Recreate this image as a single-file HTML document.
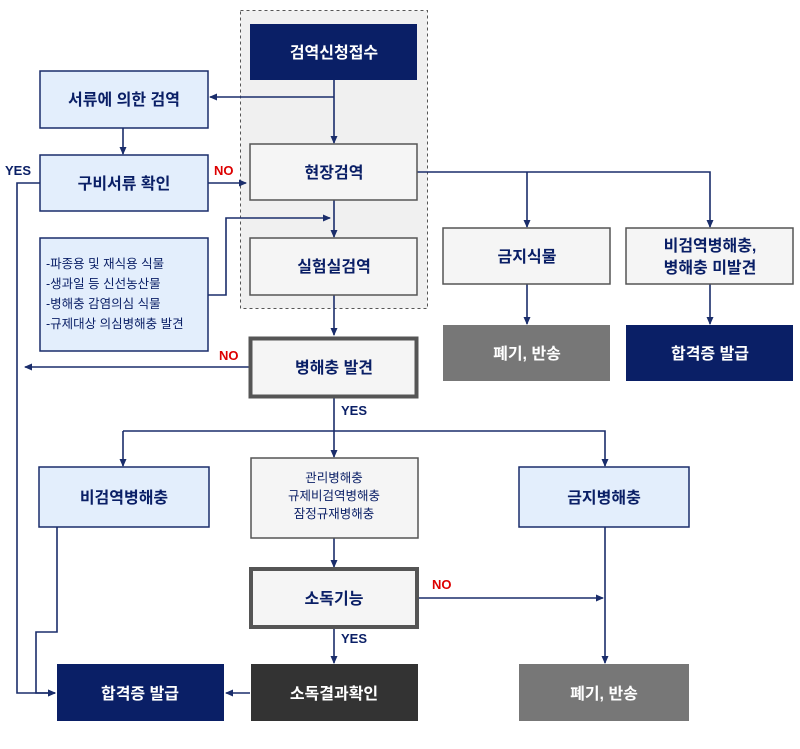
<!DOCTYPE html>
<html><head><meta charset="utf-8"><style>
html,body{margin:0;padding:0;background:#fff}
svg text{font-family:"Liberation Sans","Noto Sans CJK KR",sans-serif;font-weight:bold}
svg text.n{font-weight:normal}
</style></head><body>
<svg width="800" height="744" viewBox="0 0 800 744" xmlns="http://www.w3.org/2000/svg">
<defs><marker id="a" markerWidth="8" markerHeight="8" refX="7" refY="4" orient="auto" markerUnits="userSpaceOnUse"><path d="M0,0.5 L8,4 L0,7.5 z" fill="#1a2d6b"/></marker></defs>
<rect x="240.5" y="10.5" width="187" height="298" fill="#f0f0f0" stroke="#555" stroke-dasharray="3,3"/>
<g fill="none" stroke="#1a2d6b" stroke-width="1.6">
<path d="M334 80 V143" marker-end="url(#a)"/>
<path d="M334 97 H210" marker-end="url(#a)"/>
<path d="M123 128 V154" marker-end="url(#a)"/>
<path d="M208 183 H246" marker-end="url(#a)"/>
<path d="M40 183 H17 V693 H55" marker-end="url(#a)"/>
<path d="M417 172 H710 V227" marker-end="url(#a)"/>
<path d="M527 172 V227" marker-end="url(#a)"/>
<path d="M334 200 V237" marker-end="url(#a)"/>
<path d="M208 295 H226 V218 H330" marker-end="url(#a)"/>
<path d="M334 295 V335" marker-end="url(#a)"/>
<path d="M249 367 H25" marker-end="url(#a)"/>
<path d="M334 397 V457" marker-end="url(#a)"/>
<path d="M123 431 H605 V466" marker-end="url(#a)"/>
<path d="M123 431 V466" marker-end="url(#a)"/>
<path d="M527 284 V324" marker-end="url(#a)"/>
<path d="M710 284 V324" marker-end="url(#a)"/>
<path d="M57 527 V632 H36 V693 H55" marker-end="url(#a)"/>
<path d="M334 538 V567" marker-end="url(#a)"/>
<path d="M418 598 H603" marker-end="url(#a)"/>
<path d="M605 527 V663" marker-end="url(#a)"/>
<path d="M334 628 V663" marker-end="url(#a)"/>
<path d="M250 693 H226" marker-end="url(#a)"/>
</g>
<rect x="250" y="24" width="167" height="56" fill="#0a1f66"/>
<rect x="40" y="71" width="168" height="57" fill="#e3eefc" stroke="#1a2d6b" stroke-width="1.5"/>
<rect x="40" y="155" width="168" height="56" fill="#e3eefc" stroke="#1a2d6b" stroke-width="1.5"/>
<rect x="40" y="238" width="168" height="113" fill="#e3eefc" stroke="#1a2d6b" stroke-width="1.5"/>
<rect x="250" y="144" width="167" height="56" fill="#f5f5f5" stroke="#555" stroke-width="1.5"/>
<rect x="250" y="238" width="167" height="57" fill="#f5f5f5" stroke="#555" stroke-width="1.5"/>
<rect x="250.5" y="338.5" width="166" height="58" fill="#f5f5f5" stroke="#555" stroke-width="4"/>
<rect x="443" y="228" width="167" height="56" fill="#f5f5f5" stroke="#555" stroke-width="1.5"/>
<rect x="626" y="228" width="167" height="56" fill="#f5f5f5" stroke="#555" stroke-width="1.5"/>
<rect x="443" y="325" width="167" height="56" fill="#777"/>
<rect x="626" y="325" width="167" height="56" fill="#0a1f66"/>
<rect x="39" y="467" width="170" height="60" fill="#e3eefc" stroke="#1a2d6b" stroke-width="1.5"/>
<rect x="251" y="458" width="167" height="80" fill="#f5f5f5" stroke="#555" stroke-width="1.5"/>
<rect x="519" y="467" width="170" height="60" fill="#e3eefc" stroke="#1a2d6b" stroke-width="1.5"/>
<rect x="251" y="569" width="166" height="58" fill="#f5f5f5" stroke="#555" stroke-width="4"/>
<rect x="57" y="664" width="167" height="57" fill="#0a1f66"/>
<rect x="251" y="664" width="167" height="57" fill="#333"/>
<rect x="519" y="664" width="170" height="57" fill="#777"/>
<g font-size="16" text-anchor="middle" fill="#0a1f66">
<text x="334" y="58" fill="#fff">검역신청접수</text>
<text x="124" y="105">서류에 의한 검역</text>
<text x="124" y="189">구비서류 확인</text>
<text x="334" y="178">현장검역</text>
<text x="334" y="272">실험실검역</text>
<text x="334" y="373">병해충 발견</text>
<text x="527" y="262">금지식물</text>
<text x="710" y="251">비검역병해충,</text>
<text x="710" y="273">병해충 미발견</text>
<text x="527" y="359" fill="#fff">폐기, 반송</text>
<text x="710" y="359" fill="#fff">합격증 발급</text>
<text x="124" y="503">비검역병해충</text>
<text x="604" y="503">금지병해충</text>
<text x="334" y="604">소독기능</text>
<text x="140" y="699" fill="#fff">합격증 발급</text>
<text x="334" y="699" fill="#fff">소독결과확인</text>
<text x="604" y="699" fill="#fff">폐기, 반송</text>
</g>
<g font-size="12.5" text-anchor="middle" fill="#0a1f66">
<text class="n" x="334" y="482">관리병해충</text>
<text class="n" x="334" y="500">규제비검역병해충</text>
<text class="n" x="334" y="518">잠정규재병해충</text>
</g>
<g font-size="12.5" fill="#0a1f66">
<text class="n" x="46" y="268">-파종용 및 재식용 식물</text>
<text class="n" x="46" y="288">-생과일 등 신선농산물</text>
<text class="n" x="46" y="308">-병해충 감염의심 식물</text>
<text class="n" x="46" y="328">-규제대상 의심병해충 발견</text>
</g>
<g font-size="13">
<text x="5" y="175" fill="#0a1f66">YES</text>
<text x="214" y="175" fill="#d00">NO</text>
<text x="219" y="360" fill="#d00">NO</text>
<text x="341" y="415" fill="#0a1f66">YES</text>
<text x="432" y="589" fill="#d00">NO</text>
<text x="341" y="643" fill="#0a1f66">YES</text>
</g>
</svg>
</body></html>
